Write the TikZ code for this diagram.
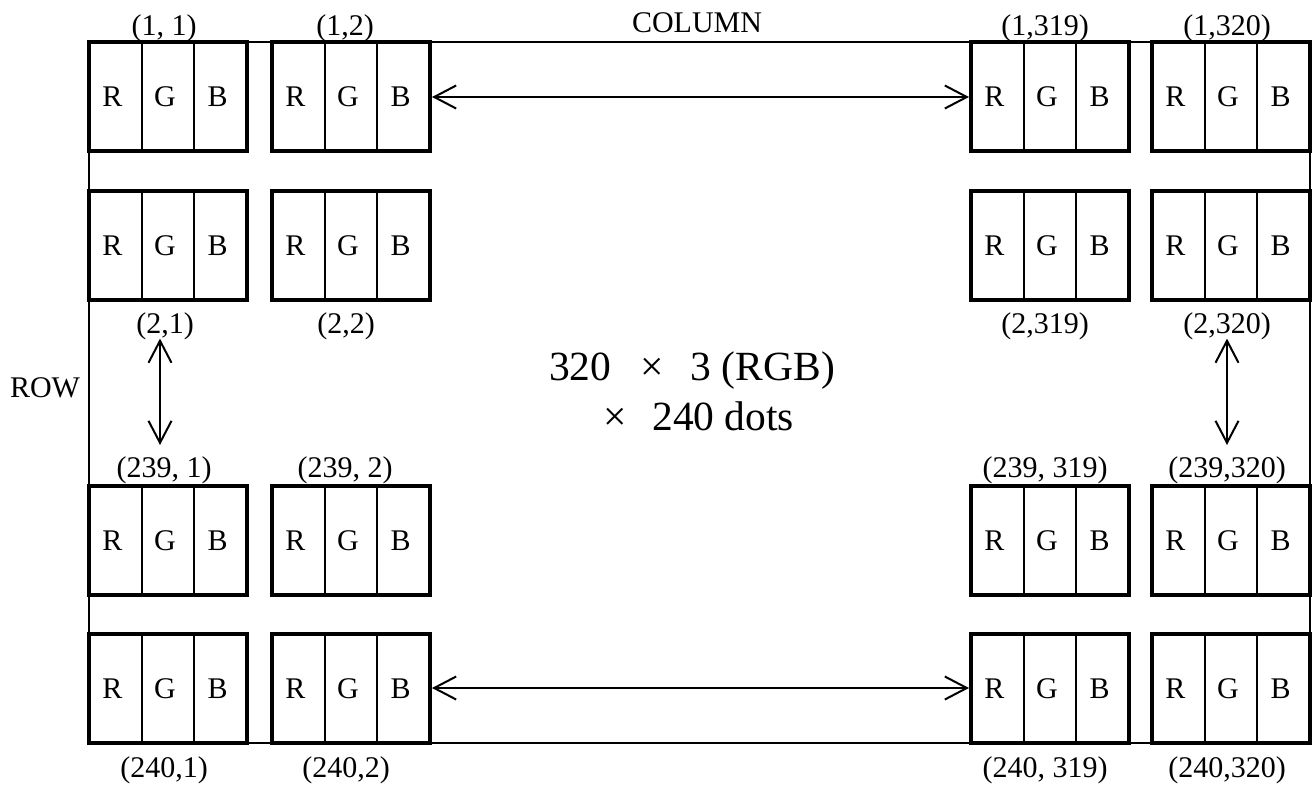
\documentclass[tikz,border=0pt]{standalone}
\usepackage{fontspec}
\setmainfont{Liberation Serif}
\usetikzlibrary{arrows.meta,calc}
\newcommand\mkpixel[3]{%
  \node[pix] (#1) at (#2,#3) {};
  \draw[divider] ($(#1.north west)!1/3!(#1.north east)$) -- ($(#1.south west)!1/3!(#1.south east)$);
  \draw[divider] ($(#1.north west)!2/3!(#1.north east)$) -- ($(#1.south west)!2/3!(#1.south east)$);
  \node[chan] (#1-r) at ($(#1.west)!1/6!(#1.east)$) {R};
  \node[chan] (#1-g) at (#1.center) {G};
  \node[chan] (#1-b) at ($(#1.west)!5/6!(#1.east)$) {B};
}
\begin{document}
\begin{tikzpicture}[x=1pt,y=-1pt,
  pix/.style={draw, line width=4pt, minimum width=158pt, minimum height=109pt, inner sep=0pt, outer sep=0pt},
  divider/.style={line width=2pt},
  chan/.style={inner sep=0pt, anchor=base, font=\fontsize{30}{36}\selectfont, xshift=-3pt, yshift=-10pt},
  lbl/.style={inner sep=0pt, anchor=base, font=\fontsize{30}{36}\selectfont},
  big/.style={inner sep=0pt, anchor=base, font=\fontsize{41.5}{50}\selectfont},
  frame/.style={line width=2pt},
  arr/.style={line width=2pt, {Straight Barb[length=22pt,width=23pt]}-{Straight Barb[length=22pt,width=23pt]}}
]
\useasboundingbox (0,0) rectangle (1315,785);

% pixel boxes
\mkpixel{p11}{168}{96}
\mkpixel{p12}{351}{96}
\mkpixel{p13}{1050}{96}
\mkpixel{p14}{1231}{96}
\mkpixel{p21}{168}{245}
\mkpixel{p22}{351}{245}
\mkpixel{p23}{1050}{245}
\mkpixel{p24}{1231}{245}
\mkpixel{p31}{168}{540}
\mkpixel{p32}{351}{540}
\mkpixel{p33}{1050}{540}
\mkpixel{p34}{1231}{540}
\mkpixel{p41}{168}{688}
\mkpixel{p42}{351}{688}
\mkpixel{p43}{1050}{688}
\mkpixel{p44}{1231}{688}

% frame
\draw[frame] (p11.north west) rectangle (p44.south east);

% labels
\node[lbl] (t1) at (164,35) {(1, 1)};
\node[lbl] (t2) at (345,35) {(1,2)};
\node[lbl] (t3) at (1045,35) {(1,319)};
\node[lbl] (t4) at (1227,35) {(1,320)};
\node[lbl] (u1) at (165,333) {(2,1)};
\node[lbl] (u2) at (346,333) {(2,2)};
\node[lbl] (u3) at (1045,333) {(2,319)};
\node[lbl] (u4) at (1227,333) {(2,320)};
\node[lbl] (v1) at (164,477) {(239, 1)};
\node[lbl] (v2) at (345,477) {(239, 2)};
\node[lbl] (v3) at (1045,477) {(239, 319)};
\node[lbl] (v4) at (1227,477) {(239,320)};
\node[lbl] (w1) at (164,777) {(240,1)};
\node[lbl] (w2) at (346,777) {(240,2)};
\node[lbl] (w3) at (1045,777) {(240, 319)};
\node[lbl] (w4) at (1227,777) {(240,320)};

\node[lbl] (col) at (697,32) {COLUMN};
\node[lbl] (row) at (45,397) {ROW};

\node[big] (dim1) at (692,380) {320\hspace{0.7em}×\hspace{0.65em}3 (RGB)};
\node[big] (dim2) at (699,430) {×\hspace{0.6em}240 dots};

% arrows
\draw[arr, shorten <=2pt, shorten >=2pt] ([yshift=-1pt]p12.east) -- ([yshift=-1pt]p13.west);
\draw[arr, shorten <=2pt, shorten >=2pt] (p42.east) -- (p43.west);
\draw[arr] ([xshift=-5pt,yshift=1pt]u1.south) -- ([xshift=-4pt,yshift=11pt]v1.north);
\draw[arr] ([yshift=1pt]u4.south) -- ([yshift=11pt]v4.north);
\end{tikzpicture}
\end{document}
